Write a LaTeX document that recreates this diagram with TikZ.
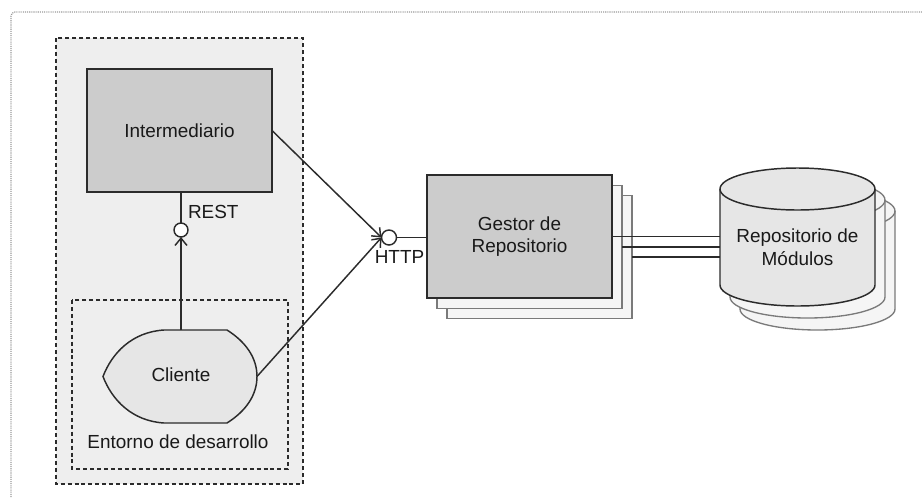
\documentclass[tikz,border=0pt]{standalone}
\usepackage{fontspec}
\setmainfont{Liberation Sans}
\usetikzlibrary{arrows.meta}

\definecolor{boxgrey}{HTML}{CCCCCC}
\definecolor{panel}{HTML}{EEEEEE}
\definecolor{soft}{HTML}{E6E6E6}
\definecolor{back}{HTML}{F5F5F5}
\definecolor{edge}{HTML}{2B2B2B}
\definecolor{backedge}{HTML}{7A7A7A}
\definecolor{frame}{HTML}{999999}

\tikzset{
  every node/.style={font=\fontsize{14.2}{17}\selectfont, text=black!90, inner sep=0pt, outer sep=0pt},
  conn/.style={draw=edge, line width=1.1pt},
  arr/.style={conn, -{Straight Barb[length=5.5pt,width=9pt]}},
  block/.style={draw=edge, line width=1.1pt, fill=boxgrey, minimum width=138.75pt, minimum height=92.25pt, align=center},
  backblock/.style={block, draw=backedge, line width=1pt, fill=back},
  ball/.style={circle, draw=edge, fill=white, line width=1.1pt},
  group/.style={draw=edge, line width=0.9pt, dash pattern=on 3pt off 2.2pt},
  drum/.style={draw=edge, line width=1.1pt, fill=soft},
  backdrum/.style={drum, draw=backedge, line width=1pt, fill=back}
}

% one database drum: style, left x, top y (ellipse top), width, height
\newcommand{\drumshape}[5]{%
  \draw[#1] (#2,#3-21) -- (#2,#3-#5+21)
    arc[start angle=180, end angle=360, x radius=#4/2, y radius=21]
    -- (#2+#4,#3-21)
    arc[start angle=0, end angle=180, x radius=#4/2, y radius=21] -- cycle;
  \draw[#1, fill=none] (#2,#3-21) arc[start angle=180, end angle=360, x radius=#4/2, y radius=21];
}

\begin{document}
\begin{tikzpicture}[x=0.75pt, y=0.75pt]
\useasboundingbox (0,0) rectangle (922,-497);

% outer canvas frame (continues past the right and bottom edges)
\draw[frame, line width=0.9pt, dash pattern=on 0.8pt off 0.8pt, rounded corners=3pt]
  (11,-497) -- (11,-12) -- (922,-12);

% client-side group and development environment
\draw[group, fill=panel] (56,-38) rectangle (303,-484);
\draw[group] (72,-300) rectangle (288,-469);
\node (entorno) at (178,-442) {Entorno de desarrollo};

% Intermediario
\node[block] (interm) at (179.5,-130.5) {Intermediario};

% Cliente (display-like shape)
\draw[drum] (164,-330) -- (227,-330)
  .. controls (246,-342) and (257,-358) .. (257,-376.5)
  .. controls (257,-395) and (246,-411) .. (227,-423)
  -- (164,-423)
  .. controls (132,-421) and (112,-400) .. (103,-376.5)
  .. controls (112,-353) and (132,-332) .. (164,-330) -- cycle;
\node[minimum width=115.5pt, minimum height=69.75pt] (cliente) at (180,-376.5) {};
\node at (181,-375) {Cliente};

% REST interface
\node[ball, minimum size=10.5pt] (rest) at (181,-230) {};
\node[anchor=west] (restlbl) at (188,-212) {REST};
\draw[conn] (interm.south -| rest.north) -- (rest.north);
\draw[arr] (cliente.north -| rest.south) -- (rest.south);

% HTTP interface
\node[ball, minimum size=11.25pt] (http) at (389,-237.5) {};
\node (httplbl) at (399.5,-257) {HTTP};
\draw[arr] (interm.east) -- (http.west);
\draw[arr] (cliente.east) -- (http.west);

% Gestor de Repositorio (stacked)
\node[backblock] (g3) at (539.5,-257) {};
\node[backblock] (g2) at (529.5,-247) {};
\node[block] (g1) at (519.5,-236.5) {Gestor de\\Repositorio};
\draw[conn] (http.east) -- (g1.west |- http.east);

% Repositorio de Modulos (stacked drums)
\drumshape{backdrum}{740}{-190}{155}{140}
\drumshape{backdrum}{730}{-179}{155}{139}
\drumshape{drum}{720}{-168}{155}{138}
\node[minimum width=116.25pt, minimum height=103.5pt] (repo) at (797.5,-237) {};
\node[align=center] at (797.5,-247.5) {Repositorio de\\Módulos};

% links between the manager instances and the repository
\draw[conn] (g1.east) -- (g1.east -| repo.west);
\draw[conn] (g2.east) -- (g2.east -| repo.west);
\draw[conn] (g3.east) -- (g3.east -| repo.west);
\end{tikzpicture}
\end{document}
